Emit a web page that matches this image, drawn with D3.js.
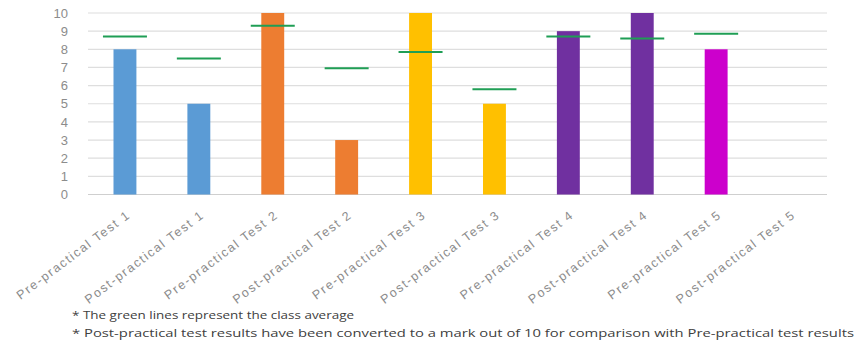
<!DOCTYPE html>
<html>
<head>
<meta charset="utf-8">
<script src="https://cdn.jsdelivr.net/npm/d3@7/dist/d3.min.js"></script>
<style>
  html, body { margin: 0; padding: 0; background: #fff; }
  svg { display: block; font-family: "Open Sans", "Liberation Sans", sans-serif; }
</style>
</head>
<body>
<svg id="chart" width="854" height="345"></svg>
<script>
// Test names along the x axis
const categories = [
  "Pre-practical Test 1", "Post-practical Test 1",
  "Pre-practical Test 2", "Post-practical Test 2",
  "Pre-practical Test 3", "Post-practical Test 3",
  "Pre-practical Test 4", "Post-practical Test 4",
  "Pre-practical Test 5", "Post-practical Test 5"
];
// Student mark (out of 10); null = no result
const scores = [8, 5, 10, 3, 10, 5, 9, 10, 8, null];
// Class average for each test (green lines)
const classAverage = [8.7, 7.5, 9.3, 6.95, 7.85, 5.8, 8.7, 8.6, 8.85, null];
// Bar colour per test pair
const barColors = ["#5B9BD5", "#5B9BD5", "#ED7D31", "#ED7D31", "#FFC000",
                   "#FFC000", "#7030A0", "#7030A0", "#CC00CC", "#CC00CC"];
const yTicks = [0, 1, 2, 3, 4, 5, 6, 7, 8, 9, 10];
const notes = [
  "* The green lines represent the class average",
  "* Post-practical test results have been converted to a mark out of 10 for comparison with Pre-practical test results"
];

const svg = d3.select("#chart");
const m = { left: 88, right: 827, top: 13, bottom: 194.5 };

const x = d3.scaleBand().domain(categories).range([m.left, m.right]).paddingInner(0.69).paddingOuter(0.345);
const y = d3.scaleLinear().domain([0, 10]).range([m.bottom, m.top]);

// Horizontal gridlines
svg.append("g")
  .selectAll("line").data(yTicks).join("line")
  .attr("x1", m.left).attr("x2", m.right)
  .attr("y1", d => y(d)).attr("y2", d => y(d))
  .attr("stroke", d => d === 0 ? "#cfcfcf" : "#dedede")
  .attr("stroke-width", 1.2);

// Y axis labels
const yAxis = svg.append("g")
  .attr("transform", `translate(${m.left},0)`)
  .call(d3.axisLeft(y).tickValues(yTicks).tickSize(0).tickPadding(20));
yAxis.select(".domain").remove();
yAxis.selectAll("text")
  .attr("fill", "#8c8c8c").style("font-size", "13px");

// Score bars
svg.append("g")
  .selectAll("rect").data(categories.map((c, i) => ({ c, v: scores[i], col: barColors[i] })).filter(d => d.v != null))
  .join("rect")
  .attr("x", d => x(d.c)).attr("width", x.bandwidth())
  .attr("y", d => y(d.v)).attr("height", d => y(0) - y(d.v))
  .attr("fill", d => d.col);

// Class average markers
const avgW = 44;
svg.append("g")
  .selectAll("line").data(categories.map((c, i) => ({ c, v: classAverage[i] })).filter(d => d.v != null))
  .join("line")
  .attr("x1", d => x(d.c) + x.bandwidth() / 2 - avgW / 2)
  .attr("x2", d => x(d.c) + x.bandwidth() / 2 + avgW / 2)
  .attr("y1", d => y(d.v)).attr("y2", d => y(d.v))
  .attr("stroke", "#1f9e55").attr("stroke-width", 2);

// Category labels, rotated
const xAxis = svg.append("g")
  .attr("transform", `translate(0,${m.bottom})`)
  .call(d3.axisBottom(x).tickSize(0).tickPadding(0));
xAxis.select(".domain").remove();
xAxis.selectAll("text")
  .attr("fill", "#8c8c8c").style("font-size", "12.5px")
  .attr("text-anchor", "end")
  .attr("dy", null).attr("y", 0)
  .attr("textLength", d => d.startsWith("Post") ? 144 : 137)
  .attr("lengthAdjust", "spacing")
  .attr("transform", "translate(5,23) rotate(-37)");

// Footnotes
svg.append("g")
  .selectAll("text").data(notes).join("text")
  .attr("x", 72).attr("y", (d, i) => 319 + i * 18)
  .attr("fill", "#404040").style("font-size", "11.5px")
  .attr("textLength", (d, i) => i === 0 ? 282 : 782)
  .attr("lengthAdjust", "spacingAndGlyphs")
  .text(d => d);
</script>
</body>
</html>
